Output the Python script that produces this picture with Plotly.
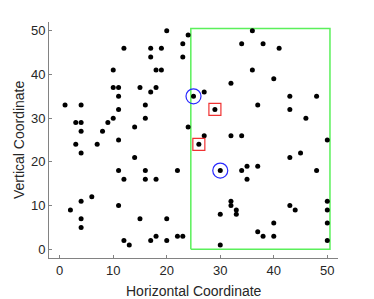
import plotly.graph_objects as go

# data points (Horizontal, Vertical)
px = [1, 3, 4, 4, 4, 3, 7, 8, 9, 10, 10, 10, 11, 11, 11, 11, 12, 14, 15, 16, 16, 17, 17, 17,
      18, 18, 19, 19, 20, 23, 23, 24, 24,
      36, 34, 38, 41, 36, 32, 40, 27, 25, 43, 48, 29, 37, 43, 46, 27, 32, 34, 26, 50,
      4, 14, 11, 12, 16, 16, 18, 22, 6, 4, 2, 11, 4, 4, 15, 20, 12, 13, 17, 18, 20, 22, 23,
      43, 45, 30, 34, 35, 37, 35, 48, 32, 32, 33, 33, 30, 43, 44, 50, 50, 50, 50, 40, 37, 38, 40, 30]
py = [33, 29, 29, 33, 27, 24, 24, 27, 29, 30, 41, 37, 37, 35, 32, 25, 46, 28, 37, 33, 30, 36, 44, 46,
      41, 37, 41, 46, 50, 47, 44, 49, 28,
      50, 47, 47, 46, 41, 38, 39, 36, 35, 35, 35, 32, 33, 32, 30, 26, 26, 26, 24, 25,
      22, 21, 18, 16, 18, 16, 16, 18, 12, 11, 9, 10, 7, 5, 7, 7, 2, 1, 2, 3, 2, 3, 3,
      21, 22, 18, 18, 19, 19, 16, 18, 11, 10, 9, 8, 8, 10, 9, 11, 9, 6, 2, 6, 4, 3, 3, 1]

circle_x = [25, 30]
circle_y = [35, 18]
square_x = [29, 26]
square_y = [32, 24]

region_x = [24.5, 50.5]
region_y = [0, 50.5]

ticks = [0, 10, 20, 30, 40, 50]
tick_text = ["0", "10", "20", "30", "40", "50"]
x_title = "Horizontal Coordinate"
y_title = "Vertical Coordinate"

FONT = "Liberation Sans, Arial"
TXT = "rgb(38,38,38)"

fig = go.Figure()
fig.add_trace(go.Scatter(
    x=[region_x[0], region_x[1], region_x[1], region_x[0], region_x[0]],
    y=[region_y[0], region_y[0], region_y[1], region_y[1], region_y[0]],
    mode="lines", line=dict(color="rgb(90,240,90)", width=1.5),
    hoverinfo="skip", showlegend=False))
fig.add_trace(go.Scatter(x=px, y=py, mode="markers",
                         marker=dict(color="black", size=5),
                         showlegend=False))
fig.add_trace(go.Scatter(x=circle_x, y=circle_y, mode="markers",
                         marker=dict(symbol="circle-open", color="rgb(40,40,255)", size=15,
                                     line=dict(width=1.2)),
                         showlegend=False))
fig.add_trace(go.Scatter(x=square_x, y=square_y, mode="markers",
                         marker=dict(symbol="square-open", color="rgb(240,50,50)", size=12,
                                     line=dict(width=1.2)),
                         showlegend=False))

axis_common = dict(
    range=[-2, 52], tickvals=ticks, ticktext=tick_text, automargin=False,
    showgrid=False, zeroline=False, showline=True, linecolor="rgb(130,130,130)",
    linewidth=1, ticks="inside", ticklen=3, tickcolor="rgb(130,130,130)",
    tickfont=dict(family=FONT, size=13, color=TXT),
    mirror=False,
)
fig.update_layout(
    width=374, height=299,
    margin=dict(l=49, r=36, t=22, b=41),
    paper_bgcolor="white", plot_bgcolor="white",
    xaxis=dict(**axis_common),
    yaxis=dict(**axis_common),
    annotations=[
        dict(text=x_title, xref="paper", yref="paper", x=0.5, y=-0.1386,
             xanchor="center", yanchor="middle", showarrow=False,
             font=dict(family=FONT, size=14, color=TXT)),
        dict(text=y_title, xref="paper", yref="paper", x=-0.1038, y=0.5,
             xanchor="center", yanchor="middle", textangle=-90, showarrow=False,
             font=dict(family=FONT, size=14, color=TXT)),
    ],
)
fig.write_html("out.html", config={"displayModeBar": False},
               post_script="document.body.style.margin='0';document.body.style.overflow='hidden';")
